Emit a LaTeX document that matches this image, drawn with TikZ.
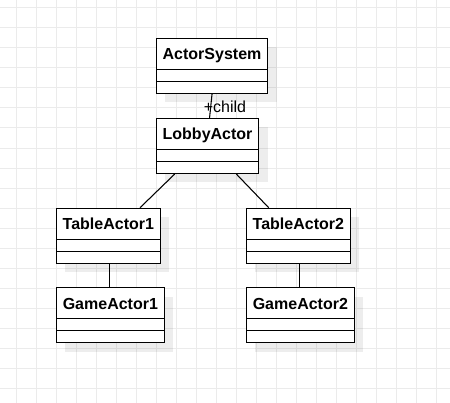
\documentclass[tikz,border=0pt]{standalone}
\usepackage{fontspec}
\setsansfont{Liberation Sans}
\usepackage{tikz}
\usetikzlibrary{shadows,calc}

\begin{document}
\begin{tikzpicture}[x=0.75pt,y=-0.75pt]
            \tikzset{cls/.style = {rectangle, draw, line width=0.8pt, anchor=north west,
                inner ysep=0pt, text height=16pt, text depth=25.25pt,
                font=\sffamily\bfseries\fontsize{12}{14}\selectfont, fill=white,
                path picture={\draw[line width=0.8pt]
                    ([yshift=18pt]path picture bounding box.south west) -- ([yshift=18pt]path picture bounding box.south east)
                    ([yshift=9pt]path picture bounding box.south west) -- ([yshift=9pt]path picture bounding box.south east);},
                drop shadow={shadow xshift=6.5pt, shadow yshift=-6.5pt, fill=black, opacity=0.07}}}
            \tikzset{link/.style = {line width=0.8pt}}
            \tikzset{gridline/.style = {line width=0.75pt, black!8}}
            \useasboundingbox (0,0) rectangle (450,403);
            % grid
            \foreach \x in {16,36,...,436} \draw[gridline] (\x,0) -- (\x,403);
            \foreach \y in {8,28,...,388} \draw[gridline] (0,\y) -- (450,\y);
            % classes
            \node[cls, minimum width=83.7pt] (as) at (155.7,38) {ActorSystem};
            \node[cls, minimum width=76.95pt] (lobby) at (155.7,118) {LobbyActor};
            \node[cls, minimum width=78.2pt] (ta1) at (55.7,207.7) {TableActor1};
            \node[cls, minimum width=78.2pt] (ta2) at (245.7,207.7) {TableActor2};
            \node[cls, minimum width=81.2pt] (ga1) at (55.7,287.3) {GameActor1};
            \node[cls, minimum width=81.2pt] (ga2) at (245.7,287.3) {GameActor2};
            % links
            \draw[link] (as.south) -- ([xshift=1.5pt]lobby.north);
            \node[anchor=base west, inner sep=0pt, font=\sffamily\fontsize{12}{14}\selectfont] (child) at (203.5,113) {+child};
            \draw[link] ($(lobby.south west)+(19,0)$) -- ($(ta1.north east)+(-21,0)$);
            \draw[link] ($(lobby.south east)+(-23,0)$) -- ($(ta2.north west)+(23,0)$);
            \draw[link] ([xshift=0.9pt]ta1.south) -- ([xshift=-0.6pt]ga1.north);
            \draw[link] ([xshift=0.6pt]ta2.south) -- ([xshift=-0.9pt]ga2.north);
        \end{tikzpicture}
\end{document}
